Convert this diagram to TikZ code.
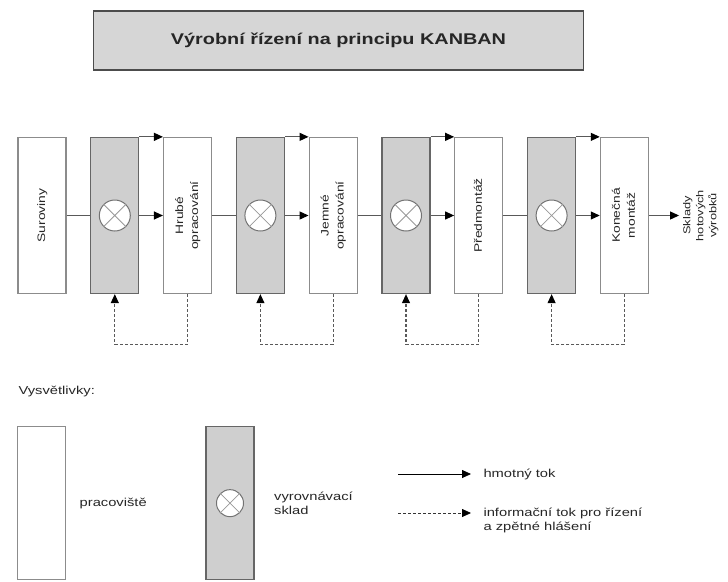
\documentclass[tikz,border=0pt]{standalone}
\usepackage{fontspec}
\setmainfont{Liberation Sans}[FakeStretch=1.28]
\usepackage{graphicx}
\usetikzlibrary{positioning, arrows.meta}
\newcommand{\vtext}[1]{\rotatebox{90}{\fontsize{10.8}{15}\selectfont\begin{tabular}{@{}c@{}}#1\end{tabular}}}

\begin{document}
\begin{tikzpicture}[%
x=1pt, y=-1pt, font=\fontsize{11.5}{14}\selectfont, text=black!85,
work/.style={draw=black!45, line width=1.3pt, fill=white, minimum width=48pt,
    minimum height=156pt, inner sep=0pt},
buffer/.style={work, draw=black!60, fill=black!19},
store/.style={circle, draw=black!55, line width=1pt, fill=white, minimum size=31pt, inner sep=0pt},
cross/.style={draw=black!40, line width=0.8pt},
flow/.style={draw=black!65, line width=1.1pt},
info/.style={flow, dash pattern=on 3pt off 2pt},
tip/.style={-{Triangle[length=9pt, width=8pt, color=black]}}]
\useasboundingbox (0,0) rectangle (728,581);
\node[draw=black!70, line width=1.6pt, fill=black!16, minimum width=490pt, minimum height=59pt]
    (title) at (338.5,40.5) {\fontsize{15.5}{18}\selectfont\bfseries Výrobní řízení na principu KANBAN};

\node[work] (w0) at (42,215.5) {\vtext{Suroviny}};
\node[buffer, right=23.5pt of w0] (b1) {};
\node[work, right=23.5pt of b1] (w1) {\vtext{Hrubé\\opracování}};
\node[buffer, right=23.5pt of w1] (b2) {};
\node[work, right=23.5pt of b2] (w2) {\vtext{Jemné\\opracování}};
\node[buffer, right=23.5pt of w2] (b3) {};
\node[work, right=23.5pt of b3] (w3) {\vtext{Předmontáž}};
\node[buffer, right=23.5pt of w3] (b4) {};
\node[work, right=23.5pt of b4] (w4) {\vtext{Konečná\\montáž}};
\node[right=32pt of w4, inner sep=0pt] (out)
    {\rotatebox{90}{\fontsize{10}{13}\selectfont\begin{tabular}{@{}c@{}}Sklady\\hotových\\výrobků\end{tabular}}};

\foreach \i/\j in {1/0, 2/1, 3/2, 4/3} {
  \node[store] (s\i) at (b\i) {};
  \draw[cross] (s\i.north east) -- (s\i.south west) (s\i.north west) -- (s\i.south east);
  \draw[flow] (w\j) -- (b\i);
  \draw[flow, tip] (b\i) -- (w\i);
  \draw[flow, tip] (b\i.north east) -- (w\i.north west);
  \draw[info, tip] (w\i.south) -- ++(0,50) -| (b\i.south);
}
\draw[flow, tip, shorten >=2pt] (w4) -- (out);

\node[anchor=west] (key) at (15,392) {Vysvětlivky:};
\node[work, minimum height=153pt, anchor=north] (kw) at (41.5,426) {};
\node[right=10pt of kw] (kwt) {pracoviště};
\node[buffer, minimum height=153pt, anchor=north] (kb) at (230,426) {};
\node[store, minimum size=27pt] (ks) at (kb) {};
\draw[cross] (ks.north east) -- (ks.south west) (ks.north west) -- (ks.south east);
\node[right=16pt of kb, align=left] (kbt) {vyrovnávací\\sklad};

\coordinate (m) at (398,474);
\node[anchor=west] (mt) at (480,474) {hmotný tok};
\draw[flow, draw=black, line width=0.8pt, tip, shorten >=9pt] (m) -- (mt);
\coordinate (i) at (398,513);
\node[anchor=north west, align=left] (it) at (480,504) {informační tok pro řízení\\a zpětné hlášení};
\draw[info, draw=black!80, line width=0.8pt, tip, shorten >=9pt] (i) -- (i -| it.west);
\end{tikzpicture}
\end{document}
